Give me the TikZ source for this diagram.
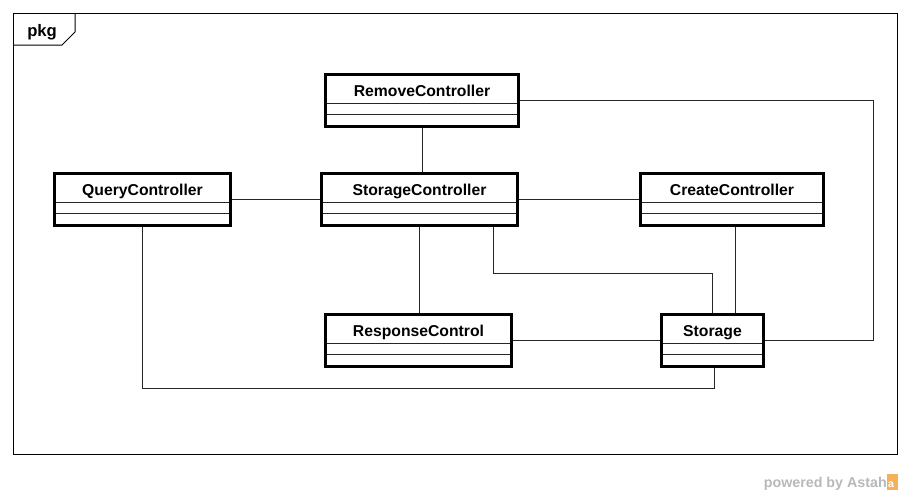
\documentclass[tikz,border=0pt]{standalone}
\usepackage{fontspec}
\setmainfont{Liberation Sans}
\usetikzlibrary{calc, positioning}
\definecolor{astahorange}{RGB}{246,176,90}

\begin{document}
\begin{tikzpicture}[x=0.75pt, y=-0.75pt,
    cls/.style={draw=black, line width=2.3pt, fill=white, inner sep=0pt,
        text height=17pt, text depth=22.5pt, font=\bfseries\fontsize{11.8}{13}\selectfont,
        path picture={
            \draw[line width=0.8pt, black!85]
                ($(path picture bounding box.north west)+(0,29)$) -- ($(path picture bounding box.north east)+(0,29)$)
                ($(path picture bounding box.north west)+(0,40)$) -- ($(path picture bounding box.north east)+(0,40)$);}},
    conn/.style={draw=black!85, line width=0.75pt},
    frm/.style={draw=black, line width=0.75pt}]
    \useasboundingbox (0,0) rectangle (910,494);
    % package frame
    \draw[frm] (13,13) rectangle (897,454);
    \draw[frm] (13,45) -- (62,45) -- (75,32) -- (75,13);
    \node[anchor=base west, inner sep=0pt, font=\bfseries\fontsize{12.5}{14}\selectfont] (pkg) at (27,36.7) {pkg};
    % classes
    \node[cls, minimum width=145pt] (remove)  at (422,100.5)   {RemoveController};
    \node[cls, minimum width=132pt] (query)   at (142.5,199.5) {QueryController};
    \node[cls, minimum width=147pt] (storctl) at (419.5,199.5) {StorageController};
    \node[cls, minimum width=137pt] (create)  at (732,199.5)   {CreateController};
    \node[cls, minimum width=140pt] (resp)    at (418.5,340.5) {ResponseControl};
    \node[cls, minimum width=77pt]  (storage) at (712.5,340.5) {Storage};
    % associations
    \coordinate (rbend) at (873,100.5);
    \draw[conn] (remove.south) -- (remove.south |- storctl.north);
    \draw[conn] (query.east) -- (storctl.west);
    \draw[conn] (storctl.east) -- (create.west);
    \draw[conn] (storctl.south) -- (storctl.south |- resp.north);
    \draw[conn] ($(storctl.south)+(73.5,0)$) -- ++(0,46) -| (storage.north);
    \draw[conn] ($(create.south)+(3,0)$) -- ($(create.south |- storage.north)+(3,0)$);
    \draw[conn] (resp.east) -- (storage.west);
    \draw[conn] (storage.east) -| (rbend) -- (remove.east);
    \draw[conn] (query.south) -- ++(0,161) -| ($(storage.south)+(1.5,0)$);
    % footer
    \node[anchor=base east, inner sep=0pt, text=black!28, font=\bfseries\fontsize{10.7}{12}\selectfont] (powered) at (887,487) {powered by Astah};
    \fill[astahorange] (887,474) rectangle (898,490);
    \node[inner sep=0pt, text=white, font=\bfseries\fontsize{8}{9}\selectfont] (logo) at (891,485) {a};
\end{tikzpicture}
\end{document}
